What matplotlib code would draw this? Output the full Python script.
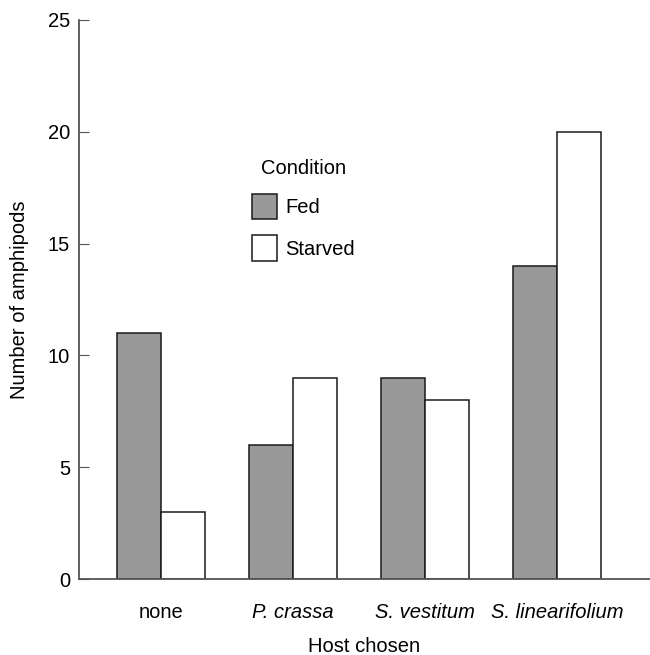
import numpy as np
import matplotlib.pyplot as plt

plt.rcParams['font.family'] = ['Liberation Sans', 'DejaVu Sans']

hosts = ['none', 'P. crassa', 'S. vestitum', 'S. linearifolium']
italic = [False, True, True, True]
fed = [11, 6, 9, 14]
starved = [3, 9, 8, 20]

fs = 14.5

fig = plt.figure(figsize=(6.5, 6.55), dpi=100)
ax = fig.add_axes([0.1215, 0.116, 0.8785, 0.8535])

x = np.arange(len(hosts))
w = 1 / 3
ax.bar(x - w / 2, fed, w, color='#999999', edgecolor='#1a1a1a', lw=1.1, label='Fed')
ax.bar(x + w / 2, starved, w, color='white', edgecolor='#1a1a1a', lw=1.1, label='Starved')

ax.set_xlim(-0.621, 3.705)
ax.set_ylim(0, 25)
ax.set_yticks([0, 5, 10, 15, 20, 25])
ax.set_xticks(x)
ax.set_xticklabels(hosts, fontsize=fs)
for lab, it in zip(ax.get_xticklabels(), italic):
    if it:
        lab.set_style('italic')
ax.tick_params(axis='x', length=0, pad=17)
ax.tick_params(axis='y', direction='in', length=7, labelsize=fs, color='#555555', pad=6.5)

for s in ['top', 'right']:
    ax.spines[s].set_visible(False)
for s in ['left', 'bottom']:
    ax.spines[s].set_color('#555555')
    ax.spines[s].set_linewidth(1.3)

ax.set_xlabel('Host chosen', fontsize=fs, labelpad=11)
ax.set_ylabel('Number of amphipods', fontsize=fs, labelpad=13.5)

# legend placed by hand to sit where the original one is
leg = ax.legend(loc='upper left', bbox_to_anchor=(252 / 650, 1 - 159 / 655),
                bbox_transform=fig.transFigure, borderpad=0, borderaxespad=0,
                frameon=False, title='Condition', fontsize=fs, title_fontsize=fs,
                handlelength=1.24, handleheight=1.55, labelspacing=0.8, handletextpad=0.42)

fig.savefig('out.png', dpi=100)
